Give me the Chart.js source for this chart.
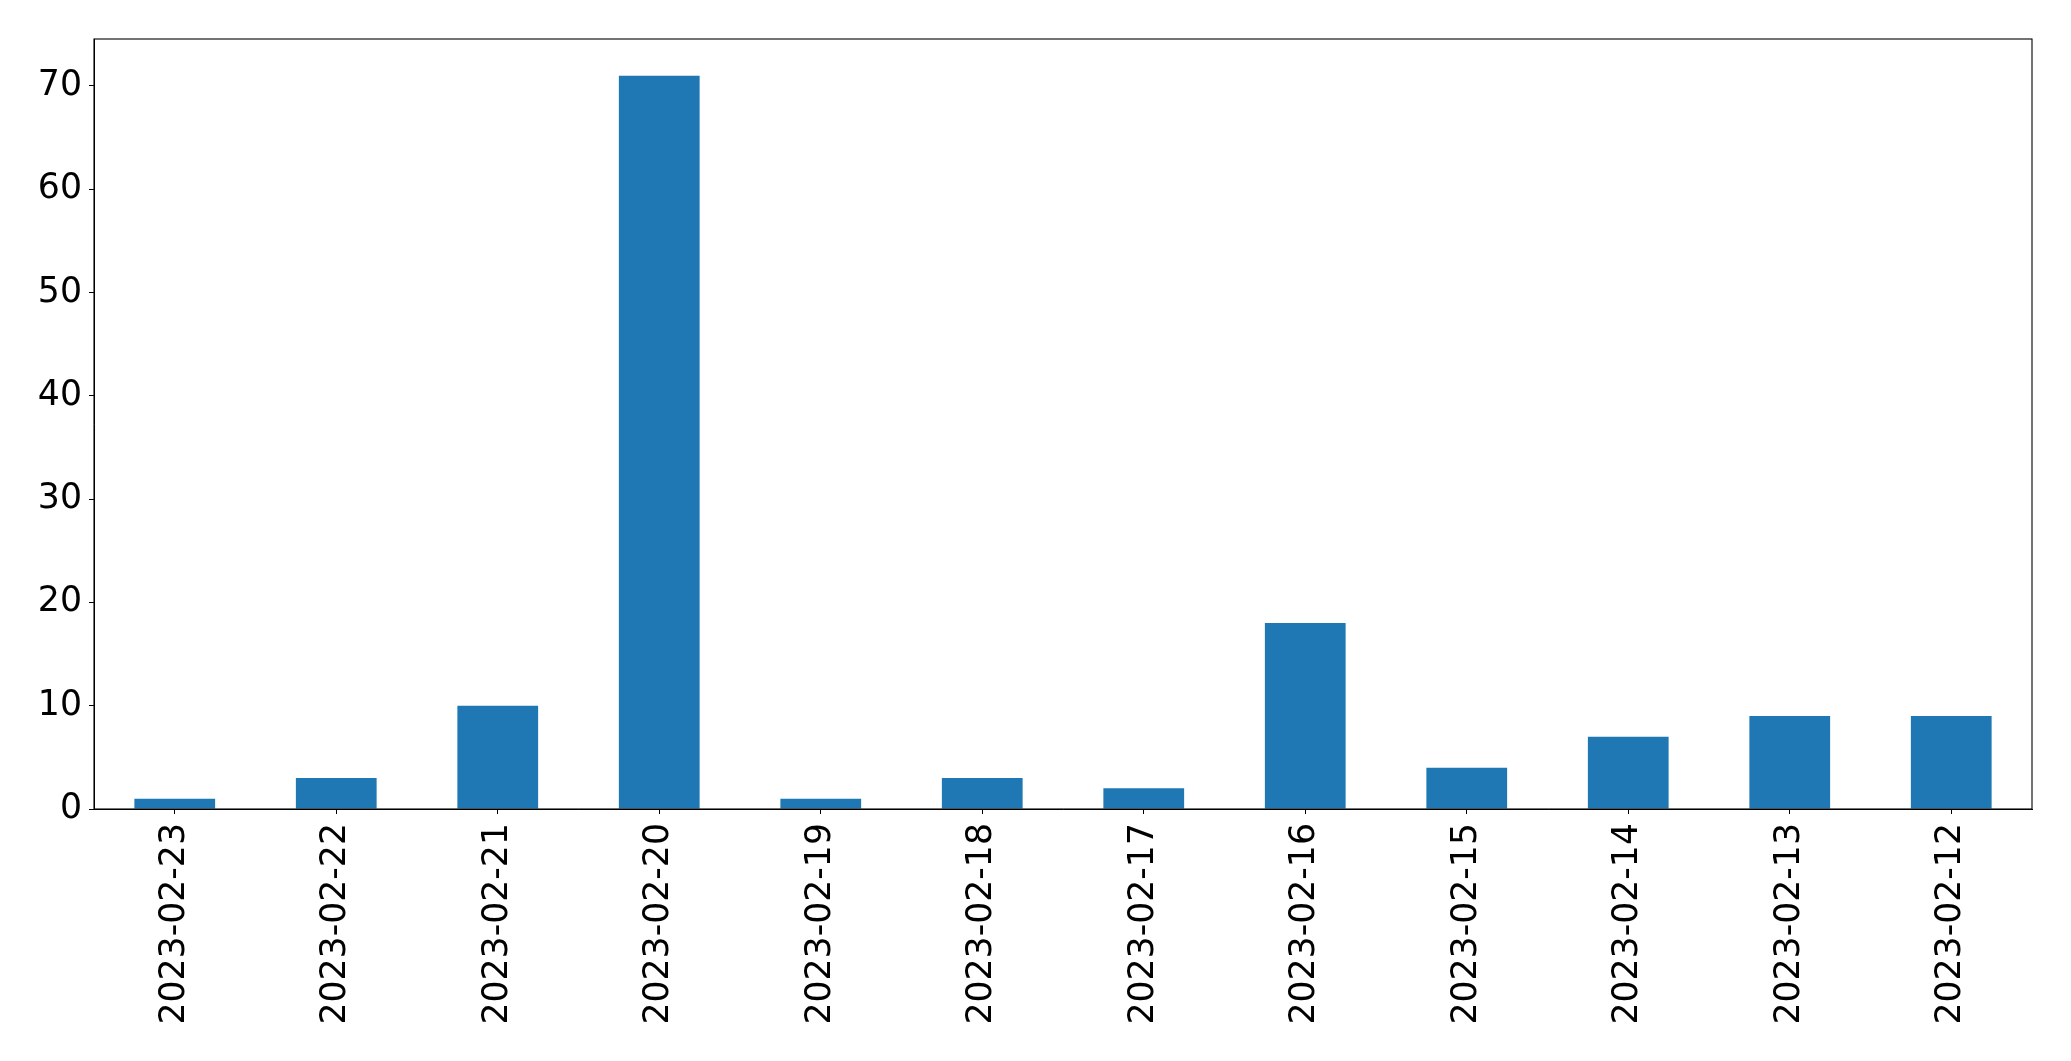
<!DOCTYPE html>
<html>
<head>
<meta charset="utf-8">
<script src="https://cdn.jsdelivr.net/npm/chart.js@4"></script>
<style>
  body { margin: 0; background: #fff; }
  #wrap { width: 2071px; height: 1061px; }
</style>
</head>
<body>
<div id="wrap"><canvas id="chart" width="2071" height="1061"></canvas></div>
<script>
// data
const dates = ['2023-02-23', '2023-02-22', '2023-02-21', '2023-02-20', '2023-02-19', '2023-02-18',
               '2023-02-17', '2023-02-16', '2023-02-15', '2023-02-14', '2023-02-13', '2023-02-12'];
const counts = [1, 3, 10, 71, 1, 3, 2, 18, 4, 7, 9, 9];
const yTicks = [0, 10, 20, 30, 40, 50, 60, 70];
const yMax = 74.55;

// box around the plot area, like matplotlib's frame
const frame = {
    id: 'frame',
    afterDraw(chart) {
        const a = chart.chartArea;
        const ctx = chart.ctx;
        ctx.save();
        ctx.strokeStyle = '#000';
        ctx.lineWidth = 1.1;
        ctx.strokeRect(a.left, a.top, a.right - a.left, a.bottom - a.top);
        ctx.restore();
    }
};

const font = { family: 'DejaVu Sans', size: 34.7 };

new Chart(document.getElementById('chart'), {
    type: 'bar',
    data: {
        labels: dates,
        datasets: [{
            data: counts,
            backgroundColor: '#1f77b4',
            borderWidth: 0,
            categoryPercentage: 0.5,
            barPercentage: 1.0
        }]
    },
    options: {
        responsive: false,
        animation: false,
        layout: { padding: { top: 39, right: 39, left: 0, bottom: 0 } },
        plugins: {
            legend: { display: false },
            tooltip: { enabled: false }
        },
        scales: {
            x: {
                grid: { offset: false, drawOnChartArea: false, drawTicks: true, tickLength: 5, color: '#000' },
                border: { display: true, color: '#000' },
                ticks: {
                    color: '#000',
                    font: font,
                    minRotation: 90,
                    maxRotation: 90,
                    autoSkip: false,
                    padding: 9
                },
                afterFit(scale) { scale.height = 252; }
            },
            y: {
                min: 0,
                max: yMax,
                grid: { drawOnChartArea: false, drawTicks: true, tickLength: 5, color: '#000' },
                border: { display: true, color: '#000' },
                ticks: { color: '#000', font: font, stepSize: 10, padding: 7 },
                afterBuildTicks(scale) {
                    scale.ticks = yTicks.map(v => ({ value: v }));
                },
                afterFit(scale) { scale.width = 94; }
            }
        }
    },
    plugins: [frame]
});
</script>
</body>
</html>
